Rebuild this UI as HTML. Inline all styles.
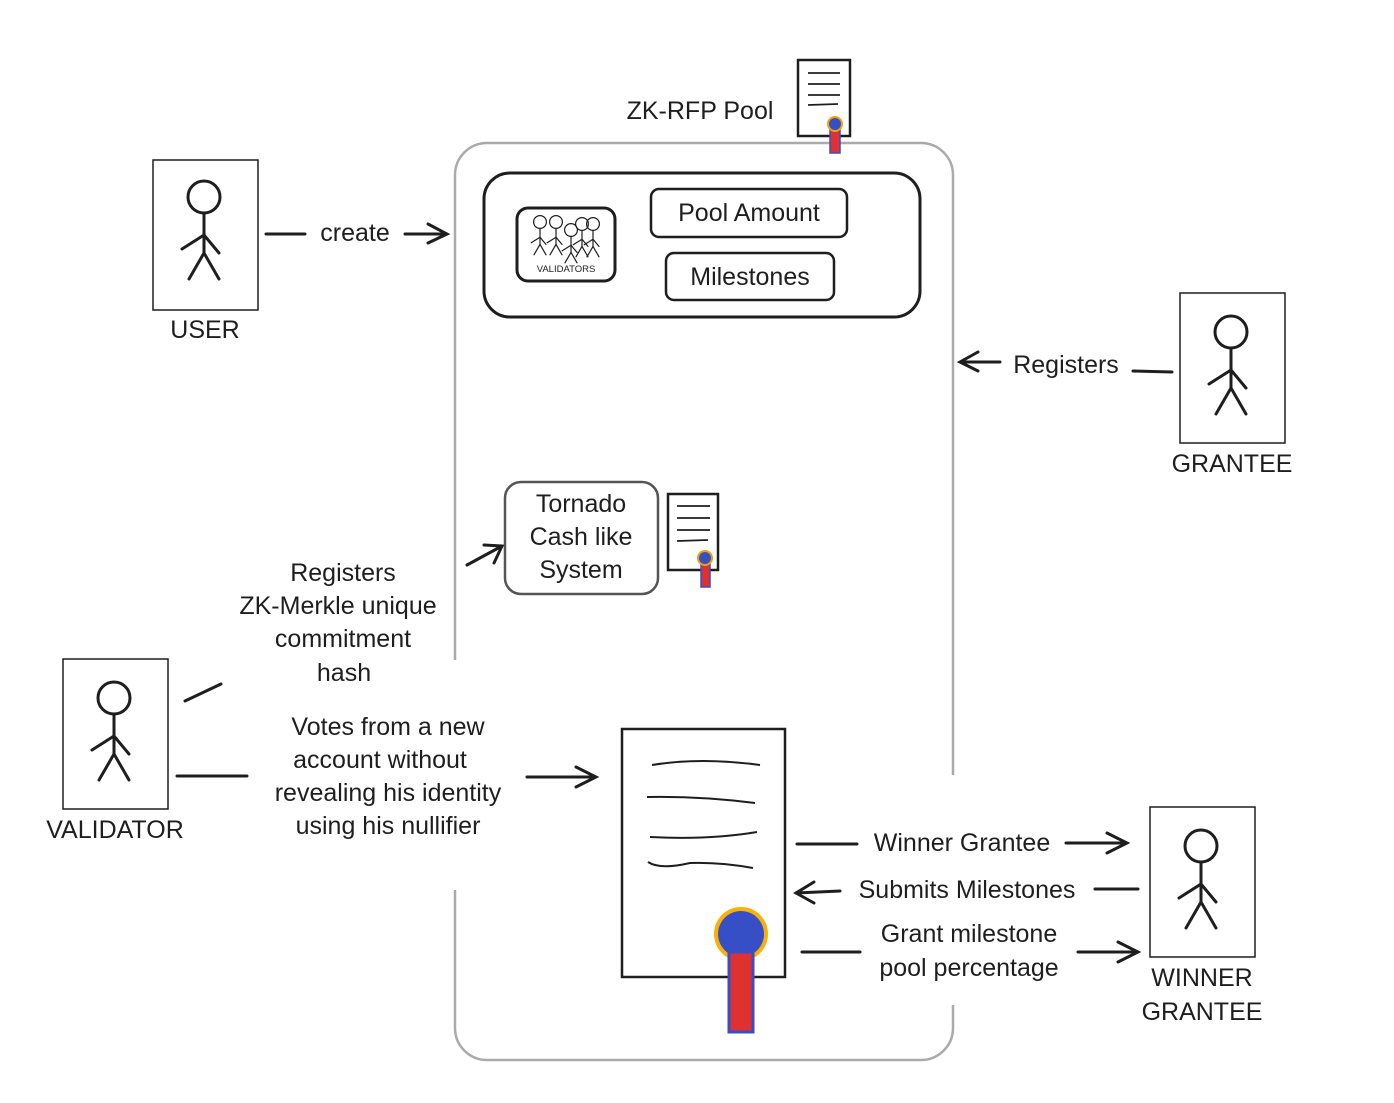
<!DOCTYPE html>
<html><head><meta charset="utf-8"><style>
html,body{margin:0;padding:0;background:#fff}
svg{display:block}
text{font-family:"Liberation Sans",sans-serif;fill:#1e1e1e}
</style></head><body>
<svg width="1394" height="1103" viewBox="0 0 1394 1103" xmlns="http://www.w3.org/2000/svg">
<defs>
<g id="stick" stroke="#1e1e1e" stroke-width="3" fill="none" stroke-linecap="round">
<circle cx="0" cy="0" r="16"/>
<line x1="0" y1="16" x2="0" y2="56"/>
<line x1="-22" y1="52" x2="0" y2="38"/>
<line x1="0" y1="38" x2="15" y2="56"/>
<line x1="0" y1="56" x2="-15" y2="82"/>
<line x1="0" y1="56" x2="15" y2="82"/>
</g>
</defs>

<rect x="455" y="143" width="498" height="917" rx="32" fill="none" stroke="#aaa" stroke-width="2.5"/>

<rect x="484" y="173" width="436" height="144" rx="26" fill="none" stroke="#1e1e1e" stroke-width="3"/>
<rect x="517" y="208" width="98" height="73" rx="11" fill="none" stroke="#1e1e1e" stroke-width="3"/>
<g transform="translate(540,222) scale(0.4)"><use href="#stick"/></g>
<g transform="translate(556,222) scale(0.4)"><use href="#stick"/></g>
<g transform="translate(571,230) scale(0.4)"><use href="#stick"/></g>
<g transform="translate(582,224) scale(0.4)"><use href="#stick"/></g>
<g transform="translate(593,224) scale(0.4)"><use href="#stick"/></g>
<text x="566" y="272" font-size="9.5" text-anchor="middle">VALIDATORS</text>
<rect x="651" y="189" width="196" height="48" rx="8" fill="none" stroke="#1e1e1e" stroke-width="2.5"/>
<text x="749" y="221" font-size="25" text-anchor="middle">Pool Amount</text>
<rect x="666" y="253" width="168" height="47" rx="8" fill="none" stroke="#1e1e1e" stroke-width="2.5"/>
<text x="750" y="285" font-size="25" text-anchor="middle">Milestones</text>

<rect x="798" y="60" width="52" height="76" fill="#fff" stroke="#1e1e1e" stroke-width="2.5"/>
<g stroke="#1e1e1e" stroke-width="1.8"><line x1="808" y1="73" x2="840" y2="73"/><line x1="808" y1="84" x2="840" y2="84"/><line x1="808" y1="95" x2="840" y2="95"/><line x1="808" y1="105" x2="838" y2="104"/></g>
<rect x="830" y="124" width="10" height="29" fill="#e03131" stroke="#364fc7" stroke-width="1.5"/>
<circle cx="835" cy="124" r="7" fill="#364fc7" stroke="#f59f00" stroke-width="2"/>
<text x="700" y="119" font-size="25" text-anchor="middle">ZK-RFP Pool</text>

<rect x="505" y="482" width="153" height="112" rx="16" fill="#fff" stroke="#555" stroke-width="2.5"/>
<text x="581" y="512" font-size="25" text-anchor="middle">Tornado</text>
<text x="581" y="545" font-size="25" text-anchor="middle">Cash like</text>
<text x="581" y="578" font-size="25" text-anchor="middle">System</text>
<rect x="668" y="494" width="50" height="76" fill="#fff" stroke="#1e1e1e" stroke-width="2.5"/>
<g stroke="#1e1e1e" stroke-width="1.8"><line x1="677" y1="506" x2="710" y2="506"/><line x1="677" y1="518" x2="710" y2="518"/><line x1="677" y1="530" x2="710" y2="530"/><line x1="677" y1="541" x2="708" y2="540"/></g>
<rect x="701" y="558" width="9" height="29" fill="#e03131" stroke="#364fc7" stroke-width="1.5"/>
<circle cx="705" cy="558" r="7" fill="#364fc7" stroke="#f59f00" stroke-width="2"/>

<rect x="622" y="729" width="163" height="248" fill="#fff" stroke="#1e1e1e" stroke-width="2.5"/>
<g stroke="#1e1e1e" stroke-width="2" fill="none"><path d="M652 765 Q700 757 760 765"/><path d="M647 797 Q700 796 755 803"/><path d="M650 837 Q710 840 757 832"/><path d="M648 862 Q660 870 690 863 Q720 862 753 868"/></g>
<circle cx="741" cy="934" r="27" fill="#fab005"/>
<circle cx="741" cy="934" r="23" fill="#364fc7"/>
<rect x="729" y="952" width="24" height="80" fill="#e03131" stroke="#364fc7" stroke-width="3"/>

<rect x="440" y="660" width="30" height="230" fill="#fff"/>
<rect x="940" y="775" width="30" height="230" fill="#fff"/>

<rect x="153" y="160" width="105" height="150" fill="none" stroke="#1e1e1e" stroke-width="1.5"/>
<g transform="translate(204,197)"><use href="#stick"/></g>
<text x="205" y="338" font-size="25" text-anchor="middle">USER</text>

<rect x="1180" y="293" width="105" height="150" fill="none" stroke="#1e1e1e" stroke-width="1.5"/>
<g transform="translate(1231,332)"><use href="#stick"/></g>
<text x="1232" y="472" font-size="25" text-anchor="middle">GRANTEE</text>

<rect x="63" y="659" width="105" height="150" fill="none" stroke="#1e1e1e" stroke-width="1.5"/>
<g transform="translate(114,698)"><use href="#stick"/></g>
<text x="115" y="838" font-size="25" text-anchor="middle">VALIDATOR</text>

<rect x="1150" y="807" width="105" height="150" fill="none" stroke="#1e1e1e" stroke-width="1.5"/>
<g transform="translate(1201,846)"><use href="#stick"/></g>
<text x="1202" y="986" font-size="25" text-anchor="middle">WINNER</text>
<text x="1202" y="1020" font-size="25" text-anchor="middle">GRANTEE</text>

<g stroke="#1e1e1e" stroke-width="3" fill="none" stroke-linecap="round">
<line x1="266" y1="234" x2="305" y2="234"/><path d="M405 234 L447 234 M428 224 L447 234 L428 243"/>
<line x1="1172" y1="372" x2="1133" y2="371"/><path d="M1000 362 L960 362 M978 352 L960 362 L978 371"/>
<line x1="185" y1="701" x2="221" y2="684"/><path d="M467 565 L502 546 M484 545 L502 546 L494 563"/>
<line x1="177" y1="776" x2="247" y2="776"/><path d="M527 777 L596 777 M576 767 L596 777 L576 787"/>
<line x1="797" y1="844" x2="857" y2="844"/><path d="M1066 843 L1127 843 M1107 833 L1127 843 L1107 853"/>
<path d="M840 891 L796 893 M814 882 L796 893 L814 903"/><line x1="1095" y1="889" x2="1138" y2="889"/>
<line x1="802" y1="952" x2="860" y2="952"/><path d="M1078 952 L1138 952 M1118 942 L1138 952 L1118 962"/>
</g>

<g font-size="25" text-anchor="middle">
<text x="355" y="241">create</text>
<text x="1066" y="373">Registers</text>
<text x="343" y="581">Registers</text>
<text x="338" y="614">ZK-Merkle unique</text>
<text x="343" y="647">commitment</text>
<text x="344" y="681">hash</text>
<text x="388" y="735">Votes from a new</text>
<text x="380" y="768">account without</text>
<text x="388" y="801">revealing his identity</text>
<text x="388" y="834">using his nullifier</text>
<text x="962" y="851">Winner Grantee</text>
<text x="967" y="898">Submits Milestones</text>
<text x="969" y="942">Grant milestone</text>
<text x="969" y="976">pool percentage</text>
</g>
</svg>
</body></html>
